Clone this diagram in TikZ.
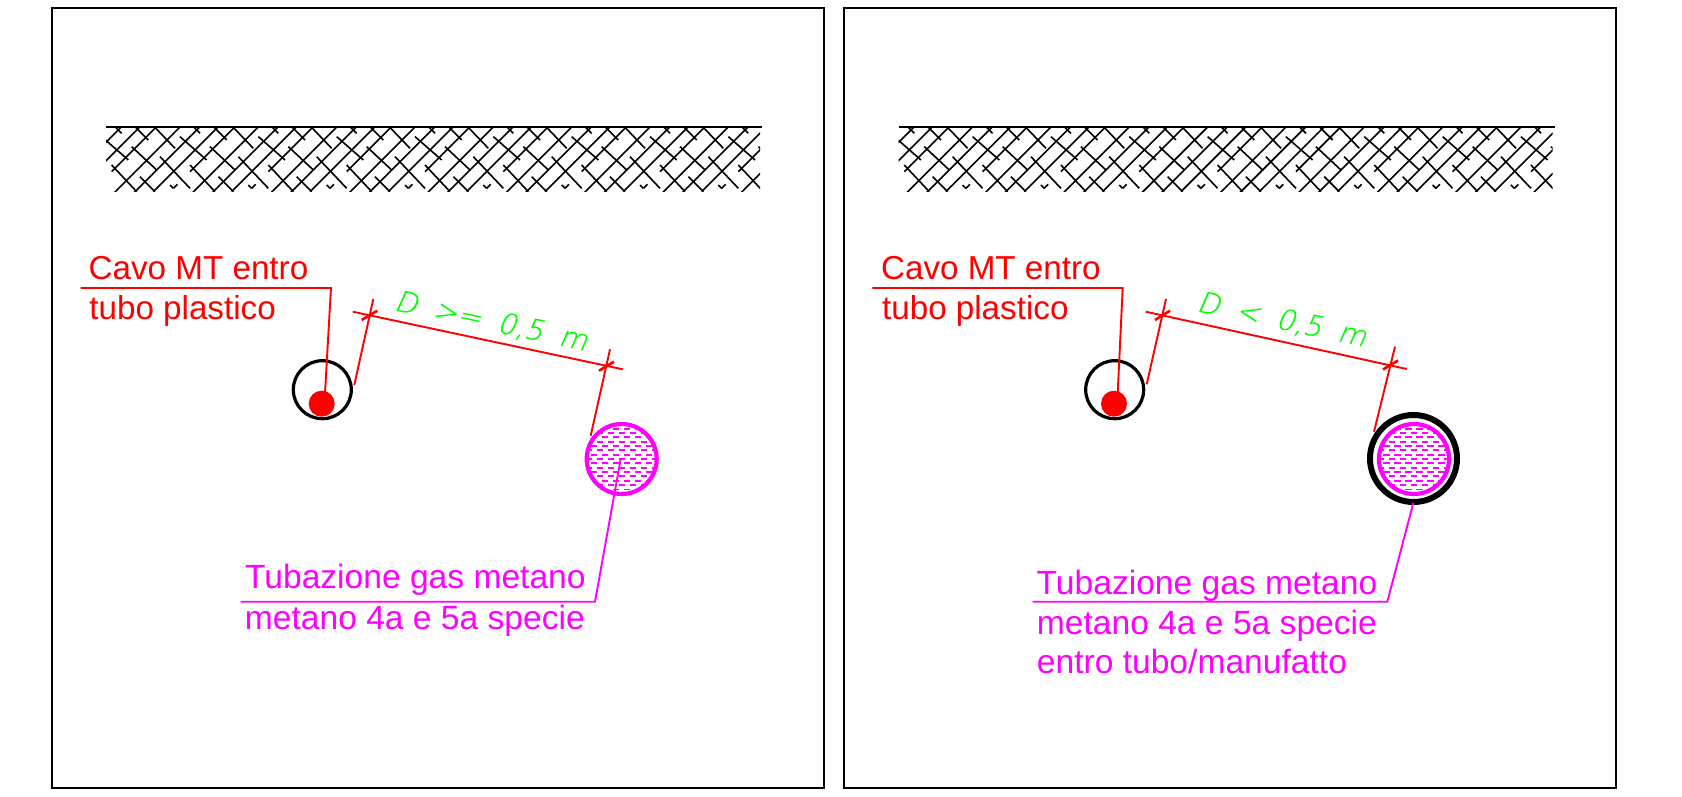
\documentclass[tikz,border=0pt]{standalone}
\usepackage{fontspec}
\setmainfont{Liberation Sans}
\newfontfamily\greenfont[FakeSlant=0.2,FakeBold=0.6]{DejaVu Sans ExtraLight}
\definecolor{mag}{RGB}{255,0,255}
\definecolor{grn}{RGB}{0,255,0}
\definecolor{rd}{RGB}{255,0,0}
\tikzset{
  frameline/.style={draw=black,line width=1pt},
  ground/.style={draw=black,line width=1.1pt},
  hatchline/.style={draw=black,line width=0.8pt},
  redline/.style={draw=rd,line width=0.95pt},
  magline/.style={draw=mag,line width=0.95pt},
  tick/.style={draw=rd,line width=1.3pt},
  cavopipe/.style={circle,draw=black,line width=1.6pt,fill=white,minimum size=29pt,inner sep=0pt},
  cavodot/.style={circle,fill=rd,minimum size=13pt,inner sep=0pt},
  gaspipe/.style={circle,draw=mag,line width=2.1pt,minimum size=35pt,inner sep=0pt},
  sleeve/.style={circle,draw=black,line width=3pt,minimum size=43.5pt,inner sep=0pt},
  redtext/.style={anchor=base west,inner sep=0pt,text=rd,font=\fontsize{16.6pt}{18pt}\selectfont},
  magtext/.style={anchor=base west,inner sep=0pt,text=mag,font=\fontsize{16.8pt}{18pt}\selectfont},
  grntext/.style={anchor=base west,inner sep=0pt,text=grn,rotate=-12,font=\fontsize{14.5pt}{15pt}\greenfont}
}
\newcommand{\earthband}{%
  \begin{scope}[shift={(90,105)},x=0.16667pt,y=-0.16667pt]
    \clip (48,66) rectangle (2010,258);
    \foreach \k in {-1,...,9}{
      \begin{scope}[shift={(235*\k,0)}]
        % long rising strokes
        \draw[hatchline] (276,60) -- (70,266);
        \draw[hatchline] (335,60) -- (130,265);
        \draw[hatchline] (390,60) -- (190,260);
        \draw[hatchline] (440,60) -- (300,200);
        \draw[hatchline] (262,238) -- (250,250);
        % short falling strokes
        \draw[hatchline] (270,95) -- (350,165);
        \draw[hatchline] (360,125) -- (435,195);
        \draw[hatchline] (445,155) -- (535,250);
        \draw[hatchline] (305,60) -- (330,85);
        \draw[hatchline] (365,60) -- (410,105);
        \draw[hatchline] (423,60) -- (490,130);
        \draw[hatchline] (300,180) -- (375,260);
        \draw[hatchline] (385,215) -- (430,260);
        \draw[hatchline] (475,240) -- (485,250);
      \end{scope}
    }
  \end{scope}}
\newcommand{\gasfill}{%
  \begin{scope}
    \clip (0,0) circle[radius=34];
    \foreach \r in {-8,...,8}{
      \pgfmathsetmacro{\off}{mod(abs(\r),2)*5.5}
      \foreach \c in {-4,...,4}{
        \draw[draw=mag,line width=0.95pt] ({\c*11+\off-3.2},{\r*4.35}) -- ({\c*11+\off+3.2},{\r*4.35});
      }
    }
  \end{scope}}
\begin{document}
\begin{tikzpicture}[x=0.5pt,y=-0.5pt]
\useasboundingbox (0,0) rectangle (1682,797);
% ---------- left panel
\draw[frameline] (51.7,8.5) rectangle (823.8,788);
\draw[ground] (106,127.3) -- (762,127.3);
\earthband
\node[cavopipe] (LP) at (322.3,389.7) {};
\node[cavodot] (LD) at (321.7,403.7) {};
\coordinate (LA) at (80.7,288);
\coordinate (LB) at (331,288);
\coordinate (LC) at (325,393);
\draw[redline] (LA) -- (LB) -- (LC);
\node[redtext] (Lt1) at (88.3,279.3) {Cavo MT entro};
\node[redtext] (Lt2) at (89,319) {tubo plastico};
\coordinate (Ld1) at (352.7,311.7);
\coordinate (Ld2) at (622.7,369.3);
\coordinate (Le1) at (354.3,385);
\coordinate (Le2) at (373.3,299);
\coordinate (Le3) at (590.7,435.7);
\coordinate (Le4) at (610,349.3);
\coordinate (Lk1) at (361.7,320);
\coordinate (Lk2) at (377.3,310.7);
\coordinate (Lk3) at (599,370.7);
\coordinate (Lk4) at (614,361.7);
\draw[redline] (Ld1) -- (Ld2);
\draw[redline] (Le1) -- (Le2);
\draw[redline] (Le3) -- (Le4);
\draw[tick] (Lk1) -- (Lk2);
\draw[tick] (Lk3) -- (Lk4);
\node[grntext] (Lg) at (393,310) {D\hspace{8.5pt}>=\hspace{8.5pt}0,5\hspace{8.5pt}m};
\begin{scope}[shift={(621.7,459)}]\gasfill\end{scope}
\node[gaspipe] (LG) at (621.7,459) {};
\coordinate (LM) at (620.5,460);
\coordinate (LN) at (595,601.7);
\coordinate (LO) at (240.7,601.7);
\draw[magline] (LM) -- (LN) -- (LO);
\node[magtext] (Lt3) at (244.7,588.5) {Tubazione gas metano};
\node[magtext] (Lt4) at (244.5,629) {metano 4a e 5a specie};
% ---------- right panel
\draw[frameline] (844,8.5) rectangle (1616,788);
\begin{scope}[shift={(792.6,0)}]
\draw[ground] (106,127.3) -- (762,127.3);
\earthband
\end{scope}
\node[cavopipe] (RP) at (1114.7,389.7) {};
\node[cavodot] (RD) at (1114,403.7) {};
\coordinate (RA) at (872.4,288);
\coordinate (RB) at (1122.7,288);
\coordinate (RC) at (1117.7,393);
\draw[redline] (RA) -- (RB) -- (RC);
\node[redtext] (Rt1) at (880.7,279.3) {Cavo MT entro};
\node[redtext] (Rt2) at (881.7,319) {tubo plastico};
\coordinate (Rd1) at (1145.7,311.7);
\coordinate (Rd2) at (1406.7,369);
\coordinate (Re1) at (1146.7,384.3);
\coordinate (Re2) at (1166,299);
\coordinate (Re3) at (1374,431.7);
\coordinate (Re4) at (1395,346.6);
\coordinate (Rk1) at (1155,320);
\coordinate (Rk2) at (1170,310.7);
\coordinate (Rk3) at (1383,369.5);
\coordinate (Rk4) at (1398,360.5);
\draw[redline] (Rd1) -- (Rd2);
\draw[redline] (Re1) -- (Re2);
\draw[redline] (Re3) -- (Re4);
\draw[tick] (Rk1) -- (Rk2);
\draw[tick] (Rk3) -- (Rk4);
\node[grntext] (Rg) at (1195.5,311) {D\hspace{8.5pt}<\hspace{8.5pt}0,5\hspace{8.5pt}m};
\begin{scope}[shift={(1414,459)}]\gasfill\end{scope}
\node[gaspipe] (RG) at (1414,459) {};
\node[sleeve] (RS) at (1413.5,458.5) {};
\coordinate (RM) at (1413.3,503);
\coordinate (RN) at (1387.3,601.7);
\coordinate (RO) at (1032.7,601.7);
\draw[magline] (RM) -- (RN) -- (RO);
\node[magtext] (Rt3) at (1036.3,594.5) {Tubazione gas metano};
\node[magtext] (Rt4) at (1036.5,634.5) {metano 4a e 5a specie};
\node[magtext] (Rt5) at (1036.5,673.5) {entro tubo/manufatto};
\end{tikzpicture}
\end{document}
